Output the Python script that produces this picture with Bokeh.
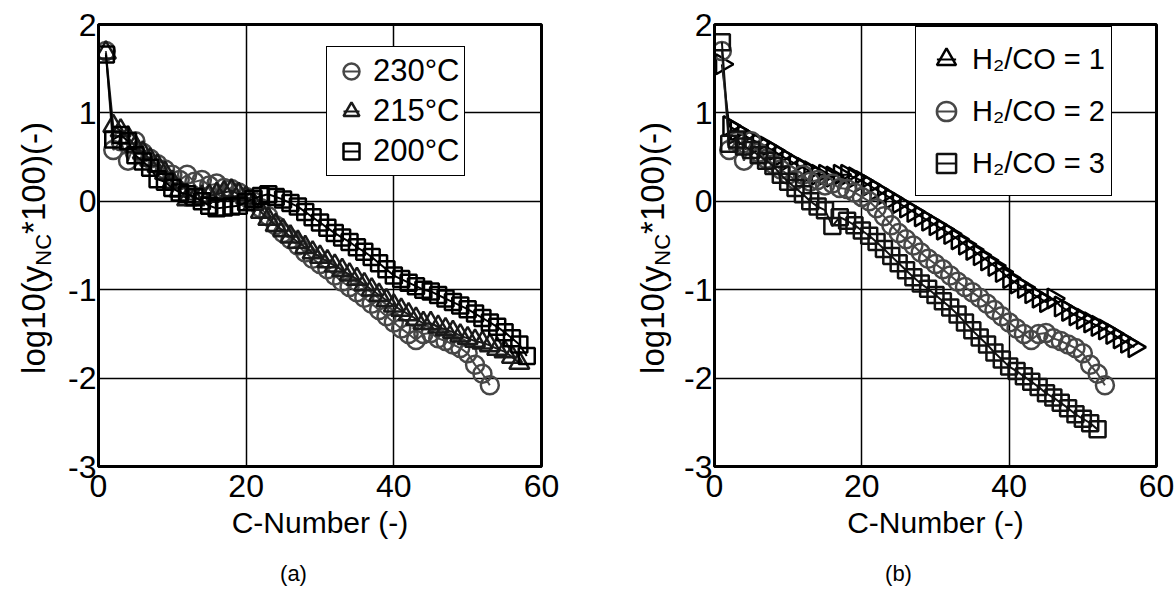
from math import pi
from bokeh.plotting import figure
from bokeh.layouts import row, column
from bokeh.models import (Range1d, FixedTicker, Legend, LegendItem, ColumnDataSource,
                          PrintfTickFormatter)
from bokeh.core.properties import value
from bokeh.embed import file_html
from bokeh.resources import INLINE

# ---------------- data (log10(y_NC*100)) ----------------
y_230C = [1.70, 0.58, 0.68, 0.46, 0.68, 0.55, 0.48, 0.42, 0.36, 0.30,
          0.24, 0.30, 0.22, 0.24, 0.18, 0.20, 0.15, 0.14, 0.10, 0.05,
          0.00, -0.08, -0.17, -0.27, -0.36, -0.43, -0.50, -0.58, -0.65, -0.71,
          -0.77, -0.84, -0.91, -0.97, -1.03, -1.09, -1.16, -1.23, -1.30, -1.37,
          -1.44, -1.50, -1.57, -1.50, -1.49, -1.55, -1.58, -1.62, -1.66, -1.72,
          -1.85, -1.95, -2.08]
y_215C = [1.68, 0.85, 0.80, 0.72, 0.62, 0.55, 0.47, 0.40, 0.32, 0.22,
          0.12, 0.02, 0.02, 0.05, 0.06, 0.08, 0.10, 0.12, 0.08, 0.04,
          -0.03, -0.12, -0.20, -0.27, -0.33, -0.40, -0.46, -0.52, -0.58, -0.63,
          -0.68, -0.73, -0.78, -0.83, -0.88, -0.94, -1.00, -1.06, -1.12, -1.18,
          -1.23, -1.28, -1.33, -1.38, -1.38, -1.42, -1.45, -1.48, -1.52, -1.55,
          -1.58, -1.60, -1.63, -1.67, -1.70, -1.76, -1.83]
y_200C = [1.66, 0.70, 0.75, 0.68, 0.52, 0.45, 0.38, 0.25, 0.22, 0.15,
          0.10, 0.08, 0.05, 0.00, -0.05, -0.08, -0.07, -0.06, -0.05, -0.01,
          0.03, 0.06, 0.08, 0.05, 0.02, -0.02, -0.06, -0.12, -0.18, -0.24,
          -0.30, -0.36, -0.41, -0.46, -0.52, -0.57, -0.63, -0.70, -0.77, -0.84,
          -0.88, -0.92, -0.96, -1.00, -1.02, -1.06, -1.10, -1.14, -1.18, -1.22,
          -1.27, -1.32, -1.37, -1.42, -1.48, -1.55, -1.62, -1.75]

y_h2co_1 = [1.55, 0.85, 0.80, 0.75, 0.70, 0.66, 0.62, 0.57, 0.52, 0.47,
            0.42, 0.38, 0.34, 0.30, 0.30, 0.28, 0.30, 0.30, 0.27, 0.23,
            0.18, 0.13, 0.08, 0.03, -0.02, -0.07, -0.12, -0.17, -0.22, -0.27,
            -0.32, -0.37, -0.43, -0.49, -0.55, -0.61, -0.67, -0.73, -0.80, -0.87,
            -0.93, -0.98, -1.04, -1.09, -1.14, -1.10, -1.19, -1.24, -1.29, -1.33,
            -1.37, -1.41, -1.45, -1.50, -1.55, -1.60, -1.65]
y_h2co_2 = [1.70, 0.58, 0.68, 0.46, 0.68, 0.55, 0.48, 0.42, 0.36, 0.30,
            0.24, 0.30, 0.22, 0.24, 0.18, 0.20, 0.15, 0.14, 0.10, 0.05,
            0.00, -0.08, -0.17, -0.27, -0.36, -0.43, -0.50, -0.58, -0.65, -0.71,
            -0.77, -0.84, -0.91, -0.97, -1.03, -1.09, -1.16, -1.23, -1.30, -1.37,
            -1.44, -1.50, -1.57, -1.50, -1.49, -1.55, -1.58, -1.62, -1.66, -1.72,
            -1.85, -1.95, -2.08]
y_h2co_3 = [1.80, 0.65, 0.70, 0.62, 0.58, 0.52, 0.46, 0.40, 0.30, 0.22,
            0.15, 0.08, 0.00, -0.06, -0.10, -0.28, -0.18, -0.22, -0.27, -0.33,
            -0.39, -0.46, -0.54, -0.62, -0.70, -0.78, -0.86, -0.93, -0.99, -1.06,
            -1.13, -1.20, -1.28, -1.37, -1.46, -1.54, -1.62, -1.71, -1.79, -1.87,
            -1.92, -1.98, -2.04, -2.10, -2.17, -2.22, -2.28, -2.34, -2.41, -2.46,
            -2.51, -2.58]

labels_a = ["230°C", "215°C", "200°C"]
labels_b = ["H₂/CO = 1", "H₂/CO = 2", "H₂/CO = 3"]
x_ticks = [0, 20, 40, 60]
y_ticks = [-3, -2, -1, 0, 1, 2]
ylabel_parts = ["log10(y", "NC", "*100)(-)"]
x_label = "C-Number (-)"
captions = ["(a)", "(b)"]

FONT = "Liberation Sans"
GRAY = "#474747"
DARK = "#1a1a1a"
BLACK = "#000000"
TOTAL_W = 1174
CAP_H = 30
H = 590 - CAP_H
TOP = 24
FRAME_H = 442
BOTTOM = H - TOP - FRAME_H


def c_numbers(ys):
    return list(range(1, len(ys) + 1))


def make_fig(width, left, right):
    p = figure(width=width, height=H, x_range=Range1d(0, 60), y_range=Range1d(-3, 2),
               output_backend="svg", toolbar_location=None,
               min_border_left=left, min_border_right=right,
               min_border_top=TOP, min_border_bottom=BOTTOM)
    p.outline_line_color = "black"
    p.outline_line_width = 3
    p.outline_line_alpha = 1
    p.xaxis.ticker = FixedTicker(ticks=x_ticks)
    p.yaxis.ticker = FixedTicker(ticks=y_ticks)
    p.xaxis.formatter = PrintfTickFormatter(format="%d")
    p.yaxis.formatter = PrintfTickFormatter(format="%d")
    for ax in (p.xaxis[0], p.yaxis[0]):
        ax.axis_line_color = "black"
        ax.axis_line_width = 3
        ax.major_tick_in = 0
        ax.major_tick_out = 0
        ax.minor_tick_in = 0
        ax.minor_tick_out = 0
        ax.major_label_text_font = FONT
        ax.major_label_text_font_size = "32px"
        ax.major_label_text_color = "black"
    p.yaxis.major_label_standoff = 2
    p.xaxis.major_label_standoff = 8
    p.xaxis.axis_label = x_label
    p.xaxis.axis_label_text_font = FONT
    p.xaxis.axis_label_text_font_size = "30px"
    p.xaxis.axis_label_text_font_style = "normal"
    p.xaxis.axis_label_text_color = "black"
    p.xaxis.axis_label_standoff = 6
    for g in (p.xgrid[0], p.ygrid[0]):
        g.grid_line_color = "black"
        g.grid_line_width = 1.5
        g.grid_line_alpha = 1
    return p


def blank_fig(width, height, top, bottom):
    # a text-only strip; 1 data unit = 1 px inside its frame
    return figure(width=width, height=height,
                  x_range=Range1d(0, width), y_range=Range1d(0, height - top - bottom),
                  output_backend="svg", toolbar_location=None,
                  x_axis_type=None, y_axis_type=None,
                  min_border_left=0, min_border_right=0,
                  min_border_top=top, min_border_bottom=bottom,
                  outline_line_color=None)


def ylabel_fig(width, x_base):
    f = blank_fig(width, H, TOP, BOTTOM)
    main, sub = 33, 22
    w1 = 3.279 * main
    w2 = 1.444 * sub
    y0 = FRAME_H - (247.5 - TOP) - (w1 + w2 + 3.389 * main) / 2
    common = dict(angle=pi / 2, text_font=value(FONT), text_color="black",
                  text_align=value("left"), text_baseline=value("alphabetic"))
    f.text(x=[x_base], y=[y0], text=[ylabel_parts[0]],
           text_font_size=value(f"{main}px"), **common)
    f.text(x=[x_base + 10], y=[y0 + w1], text=[ylabel_parts[1]],
           text_font_size=value(f"{sub}px"), **common)
    f.text(x=[x_base], y=[y0 + w1 + w2], text=[ylabel_parts[2]],
           text_font_size=value(f"{main}px"), **common)
    return f


def caption_fig():
    f = blank_fig(TOTAL_W, CAP_H, 0, 0)
    f.text(x=[293, 898], y=[CAP_H - 13, CAP_H - 13], text=captions,
           text_font=value(FONT), text_font_size=value("22px"), text_color="black",
           text_align=value("center"), text_baseline=value("middle"))
    return f


def add_series(p, ys, marker, color, size, angle=0.0):
    src = ColumnDataSource(dict(x=c_numbers(ys), y=ys))
    p.line("x", "y", source=src, line_color=color, line_width=2)
    sc = p.scatter("x", "y", source=src, marker=marker, size=size, angle=angle,
                   fill_color=None, line_color=color, line_width=2.5)
    dash = p.scatter("x", "y", source=src, marker="dash", size=size,
                     line_color=color, line_width=2, visible=False)
    return [sc, dash]


def style_legend(leg, glyph, label_h, pad, font_size):
    leg.glyph_width = glyph
    leg.glyph_height = glyph
    leg.label_height = label_h
    leg.spacing = 0
    leg.padding = pad
    leg.margin = 0
    leg.label_standoff = 2
    leg.border_line_color = "black"
    leg.border_line_width = 1
    leg.border_line_alpha = 1
    leg.background_fill_color = "white"
    leg.background_fill_alpha = 1
    leg.label_text_font = FONT
    leg.label_text_font_size = font_size
    leg.label_text_color = "black"


# ---------------- panel (a) ----------------
ya = ylabel_fig(58, 33)
pa = make_fig(542, 40, 59)
ra1 = add_series(pa, y_230C, "circle", GRAY, 18)
ra2 = add_series(pa, y_215C, "triangle", DARK, 20)
ra3 = add_series(pa, y_200C, "square", BLACK, 16)
leg_a = Legend(items=[LegendItem(label=labels_a[0], renderers=ra1),
                      LegendItem(label=labels_a[1], renderers=ra2),
                      LegendItem(label=labels_a[2], renderers=ra3)],
               location=(228, 290))
style_legend(leg_a, 40, 38, 4, "31px")
pa.add_layout(leg_a)

# ---------------- panel (b) ----------------
yb = ylabel_fig(80, 52)
pb = make_fig(494, 34, 18)
rb1 = add_series(pb, y_h2co_1, "triangle", BLACK, 20, angle=-pi / 2)
rb2 = add_series(pb, y_h2co_2, "circle", GRAY, 18)
rb3 = add_series(pb, y_h2co_3, "square", "#111111", 16)
leg_b = Legend(items=[LegendItem(label=labels_b[0], renderers=rb1),
                      LegendItem(label=labels_b[1], renderers=rb2),
                      LegendItem(label=labels_b[2], renderers=rb3)],
               location=(201, 270))
style_legend(leg_b, 48, 52, 6, "29px")
pb.add_layout(leg_b)

layout = column(row(ya, pa, yb, pb), caption_fig())
open("out.html", "w").write(file_html(layout, INLINE))
